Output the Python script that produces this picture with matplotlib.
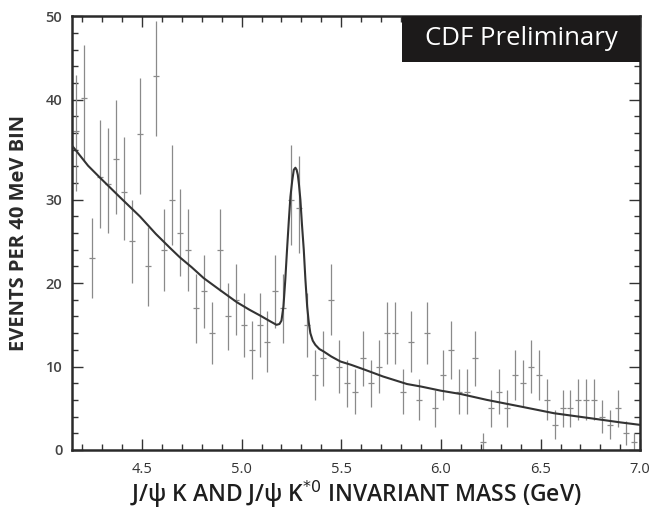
import numpy as np
import matplotlib
matplotlib.use("Agg")
import matplotlib.pyplot as plt
from matplotlib.patches import Rectangle
from matplotlib.ticker import FixedLocator, NullFormatter

# 40 MeV bins, centres from 4.17 to 6.97 GeV
bin_lo = 4.15
bin_width = 0.04
counts = [36.9, 40.2, 23, 32.3, 31.6, 34.1, 30.75, 25, 36.6, 22,
          42.9, 24, 30, 26, 24, 17, 19, 14, 24, 16,
          18, 15, 12, 15, 13, 19, 17, 30, 29, 15,
          9, 11, 18, 10, 8, 7, 11, 8, 10, 14,
          14, 7, 13, 6, 14, 5, 9, 12, 7, 7,
          11, 1, 5, 7, 5, 9, 8, 10, 9, 6,
          3, 5, 5, 6, 6, 6, 4, 3, 5, 2, 1]

# fitted curve (background + B peak)
fit_mass = [4.15, 4.17, 4.23, 4.29, 4.39, 4.49, 4.57, 4.642, 4.69, 4.75,
            4.81, 4.89, 4.977, 5.04, 5.094, 5.145, 5.175, 5.19, 5.20, 5.21,
            5.219, 5.228, 5.237, 5.245, 5.254, 5.262, 5.27, 5.276, 5.282, 5.288,
            5.295, 5.303, 5.312, 5.32, 5.329, 5.337, 5.345, 5.357, 5.37, 5.39,
            5.412, 5.45, 5.496, 5.55, 5.62, 5.71, 5.83, 5.90, 6.0, 6.1,
            6.23, 6.4, 6.567, 6.75, 6.9, 7.0]
fit_events = [35.4, 34.9, 33.4, 32.2, 30.25, 28.0, 25.9, 24.2, 23.1, 21.9,
              20.6, 19.2, 17.7, 16.8, 16.1, 15.4, 15.0, 15.1, 15.5, 17.2,
              20.3, 24.0, 27.5, 30.3, 31.9, 33.0, 33.2, 33.0, 32.5, 31.5,
              30.0, 27.0, 24.0, 20.5, 17.2, 15.3, 14.0, 13.1, 12.6, 12.1,
              11.8, 11.2, 10.6, 10.2, 9.6, 8.8, 7.9, 7.6, 7.1, 6.7,
              6.0, 5.2, 4.4, 3.8, 3.3, 3.0]

x_ticks = [4.5, 5.0, 5.5, 6.0, 6.5, 7.0]
y_ticks = [0, 10, 20, 30, 40, 50]

mass = bin_lo + bin_width * (np.arange(len(counts)) + 0.5)
counts = np.array(counts, dtype=float)
errors = np.sqrt(counts)

# the printed axis gives the 30-40 decade six minor steps instead of five
scale_v = [-100, 30, 40, 200]
scale_u = [-100, 30, 42, 202]


def to_axis(v):
    return np.interp(v, scale_v, scale_u)


def from_axis(u):
    return np.interp(u, scale_u, scale_v)


plt.rcParams["font.family"] = ["Open Sans", "DejaVu Sans"]

fig = plt.figure(figsize=(6.5, 5.13), dpi=100)
ax = fig.add_axes([0.111, 0.123, 0.874, 0.846])
ax.set_yscale("function", functions=(to_axis, from_axis))

ax.errorbar(mass, counts, yerr=errors, fmt="_", color="#8a8a8a",
            ecolor="#8a8a8a", elinewidth=0.9, markersize=5,
            markeredgewidth=0.9, capsize=0, zorder=2)
ax.plot(fit_mass, fit_events, color="#333333", lw=1.5, zorder=3)

ax.set_xlim(4.15, 7.0)
ax.set_ylim(0, 50.05)

ax.set_xticks(x_ticks)
ax.set_xticklabels([f"{t:.1f}" for t in x_ticks])
ax.xaxis.set_minor_locator(FixedLocator(np.arange(4.2, 7.0, 0.1)))
ax.set_yticks(y_ticks)
ax.set_yticklabels([str(t) for t in y_ticks])
ax.yaxis.set_minor_locator(FixedLocator(from_axis(np.arange(2, 53, 2))))
ax.yaxis.set_minor_formatter(NullFormatter())

ax.tick_params(which="both", direction="in", top=True, right=True,
               color="#333333", width=1.0)
ax.tick_params(which="major", length=8)
ax.tick_params(which="minor", length=4)
ax.tick_params(axis="x", which="major", pad=9, labelsize=10.5,
               labelcolor="#333333")
ax.tick_params(axis="y", which="major", pad=7, labelsize=10.5,
               labelcolor="#444444")
for lab in ax.get_yticklabels():
    lab.set_fontweight("semibold")

for side in ax.spines.values():
    side.set_linewidth(1.8)
    side.set_color("#2a2a2a")

ax.set_ylabel("EVENTS PER 40 MeV BIN", fontsize=14.5, fontweight="bold",
              color="#2a2a2a", labelpad=12)
ax.set_xlabel("J/\u03c8 K AND J/\u03c8 K$^{*0}$ INVARIANT MASS (GeV)",
              fontsize=16.5, fontweight="semibold", color="#1e1e1e",
              labelpad=1)

# label box in the top right corner
ax.add_patch(Rectangle((0.58, 0.894), 0.42, 0.106, transform=ax.transAxes,
                       facecolor="#1c1a1a", edgecolor="none", zorder=5,
                       clip_on=False))
ax.text(0.79, 0.947, "CDF Preliminary", transform=ax.transAxes,
        ha="center", va="center", color="white", fontsize=18.5, zorder=6)

fig.savefig("out.png", dpi=100)
